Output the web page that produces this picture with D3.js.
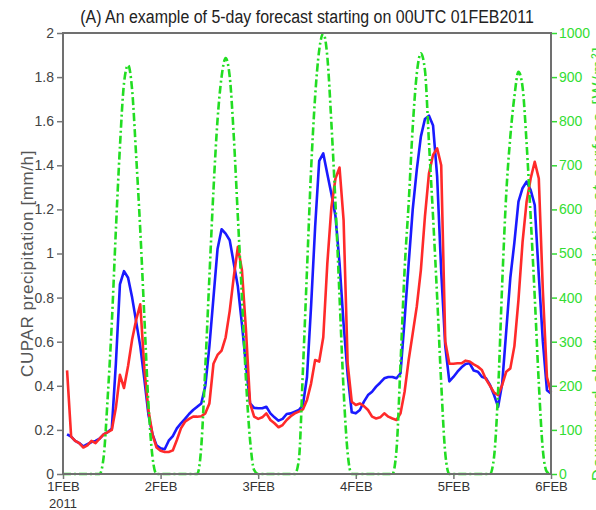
<!DOCTYPE html>
<html>
<head>
<meta charset="utf-8">
<script src="https://cdn.jsdelivr.net/npm/d3@7"></script>
<style>
body { margin: 0; background: #fff; }
svg { display: block; }
</style>
</head>
<body>
<div id="chart"></div>
<script>
const title = "(A) An example of 5-day forecast starting on 00UTC 01FEB2011";
const leftLabel = "CUPAR precipitation [mm/h]";
const rightLabel = "Downward shortwave radiation at surface [W/m\u00b2]";
const dayLabels = ["1FEB", "2FEB", "3FEB", "4FEB", "5FEB", "6FEB"];
const yearLabel = "2011";
const precipTicks = [0, 0.2, 0.4, 0.6, 0.8, 1, 1.2, 1.4, 1.6, 1.8, 2];
const swTicks = [0, 100, 200, 300, 400, 500, 600, 700, 800, 900, 1000];

// hourly values, forecast hours 1..120
const bluePrecip = [
  0.18, 0.17, 0.15, 0.14, 0.125, 0.135, 0.145, 0.15, 0.16, 0.18, 0.19, 0.205,
  0.50, 0.86, 0.92, 0.89, 0.80, 0.69, 0.58, 0.43, 0.27, 0.18, 0.13, 0.117,
  0.112, 0.151, 0.172, 0.207, 0.23, 0.25, 0.272, 0.29, 0.305, 0.32, 0.40, 0.58,
  0.80, 1.02, 1.11, 1.09, 1.06, 0.955, 0.85, 0.68, 0.49, 0.32, 0.30, 0.298,
  0.298, 0.305, 0.275, 0.257, 0.242, 0.25, 0.272, 0.275, 0.283, 0.29, 0.313, 0.44,
  0.76, 1.12, 1.42, 1.454, 1.36, 1.27, 1.17, 0.955, 0.68, 0.45, 0.28, 0.275,
  0.29, 0.328, 0.358, 0.373, 0.396, 0.414, 0.434, 0.44, 0.44, 0.434, 0.457, 0.70,
  0.955, 1.20, 1.38, 1.53, 1.61, 1.625, 1.58, 1.35, 0.92, 0.58, 0.42, 0.44,
  0.464, 0.484, 0.499, 0.502, 0.469, 0.464, 0.441, 0.434, 0.404, 0.358, 0.305, 0.41,
  0.65, 0.89, 1.05, 1.235, 1.296, 1.326, 1.288, 1.22, 0.90, 0.60, 0.38, 0.365
];
const redPrecip = [
  0.47, 0.17, 0.15, 0.14, 0.12, 0.13, 0.15, 0.14, 0.16, 0.18, 0.19, 0.20,
  0.30, 0.45, 0.39, 0.49, 0.61, 0.70, 0.77, 0.48, 0.29, 0.18, 0.12, 0.105,
  0.10, 0.10, 0.107, 0.154, 0.207, 0.237, 0.25, 0.26, 0.26, 0.262, 0.275, 0.32,
  0.50, 0.54, 0.56, 0.62, 0.74, 0.895, 1.03, 0.925, 0.65, 0.32, 0.26, 0.25,
  0.257, 0.275, 0.245, 0.23, 0.212, 0.222, 0.245, 0.262, 0.275, 0.283, 0.293, 0.336,
  0.41, 0.517, 0.51, 0.62, 0.955, 1.21, 1.34, 1.39, 1.15, 0.50, 0.328, 0.313,
  0.32, 0.308, 0.29, 0.26, 0.252, 0.257, 0.275, 0.26, 0.252, 0.245, 0.275, 0.373,
  0.517, 0.638, 0.76, 0.925, 1.167, 1.364, 1.447, 1.477, 1.40, 0.60, 0.50, 0.50,
  0.502, 0.502, 0.514, 0.51, 0.497, 0.487, 0.472, 0.43, 0.40, 0.369, 0.358, 0.404,
  0.464, 0.479, 0.58, 0.79, 1.05, 1.235, 1.34, 1.416, 1.34, 0.83, 0.44, 0.37
];
// hourly values, forecast hours 0..120
const shortwave = [
  0, 0, 0, 0, 0, 0, 0, 0, 0, 0,
  39, 175, 342, 553, 742, 886, 927, 871, 720, 553, 357, 160, 39, 0,
  0, 0, 0, 0, 0, 0, 0, 0, 0, 0,
  62, 243, 447, 644, 803, 901, 943, 901, 765, 583, 402, 213, 77, 9,
  0, 0, 0, 0, 0, 0, 0, 0, 0, 0,
  32, 236, 463, 689, 856, 961, 999, 946, 795, 614, 402, 190, 47,
  0, 0, 0, 0, 0, 0, 0, 0, 0, 0, 0,
  54, 251, 463, 614, 787, 908, 954, 916, 750, 583, 402, 206, 47,
  0, 0, 0, 0, 0, 0, 0, 0, 0, 0, 0,
  39, 190, 432, 636, 765, 856, 912, 878, 750, 583, 402, 206, 54, 5, 0
];

const W = 596, H = 510;
const plotL = 63, plotR = 551, plotT = 33, plotB = 474;
const font = "'Liberation Sans',Arial,sans-serif";
const narrow = 0.84; // squeeze glyphs horizontally, the original uses a condensed face

const x = d3.scaleLinear().domain([0, 120]).range([plotL, plotR]);
const y = d3.scaleLinear().domain([0, 2]).range([plotB, plotT]);
const ySw = d3.scaleLinear().domain([0, 1000]).range([plotB, plotT]);

const svg = d3.select("#chart").append("svg")
    .attr("width", W).attr("height", H)
    .style("font-family", font);

svg.append("text")
    .attr("transform", `translate(${(plotL + plotR) / 2},23) scale(${narrow},1)`)
    .attr("text-anchor", "middle")
    .attr("font-size", 19)
    .attr("fill", "#222")
    .text(title);

// left axis
const yAxis = svg.append("g")
    .attr("transform", `translate(${plotL},0)`)
    .call(d3.axisLeft(y).tickValues(precipTicks).tickSize(6).tickPadding(3)
        .tickFormat(d => d3.format(".1f")(d).replace(/\.0$/, "")));
yAxis.select(".domain").remove();
yAxis.selectAll("line").attr("stroke", "#777").attr("stroke-width", 1.5);
yAxis.selectAll("text").attr("font-size", 14).attr("fill", "#444").attr("font-family", font);

// right axis
const swAxis = svg.append("g")
    .attr("transform", `translate(${plotR},0)`)
    .call(d3.axisRight(ySw).tickValues(swTicks).tickSize(6).tickPadding(2)
        .tickFormat(d3.format("d")));
swAxis.select(".domain").remove();
swAxis.selectAll("line").attr("stroke", "#33dd33").attr("stroke-width", 1.5);
swAxis.selectAll("text").attr("font-size", 14).attr("fill", "#33dd33").attr("font-family", font);

// bottom axis
const xAxis = svg.append("g")
    .attr("transform", `translate(0,${plotB})`)
    .call(d3.axisBottom(x).tickValues(d3.range(0, 121, 24)).tickSize(5).tickPadding(3)
        .tickFormat((d, i) => dayLabels[i]));
xAxis.select(".domain").remove();
xAxis.selectAll("line").attr("stroke", "#777").attr("stroke-width", 1.5);
xAxis.selectAll("text").attr("font-size", 13).attr("fill", "#333").attr("font-family", font);

svg.append("text")
    .attr("x", x(0)).attr("y", 508)
    .attr("text-anchor", "middle")
    .attr("font-size", 13).attr("fill", "#333")
    .text(yearLabel);

svg.append("text")
    .attr("transform", `translate(33,${(plotT + plotB) / 2 + 10}) rotate(-90)`)
    .attr("text-anchor", "middle")
    .attr("font-size", 17).attr("fill", "#555")
    .attr("letter-spacing", 0.6)
    .text(leftLabel);

// right title mostly falls outside the picture, as in the original
svg.append("text")
    .attr("transform", `translate(604,${(plotT + plotB) / 2 + 10}) rotate(-90)`)
    .attr("text-anchor", "middle")
    .attr("font-size", 17).attr("fill", "#33dd33")
    .attr("letter-spacing", 1.5)
    .text(rightLabel);

const plot = svg.append("g");

const precipLine = start => d3.line()
    .x((d, i) => x(start + i))
    .y(d => y(d));

plot.append("path")
    .datum(bluePrecip)
    .attr("fill", "none").attr("stroke", "#1a1aff").attr("stroke-width", 2.6)
    .attr("stroke-linejoin", "round")
    .attr("d", precipLine(1));

plot.append("path")
    .datum(redPrecip)
    .attr("fill", "none").attr("stroke", "#ff2a2a").attr("stroke-width", 2.6)
    .attr("stroke-linejoin", "round")
    .attr("d", precipLine(1));

plot.append("path")
    .datum(shortwave)
    .attr("fill", "none").attr("stroke", "#22dd22").attr("stroke-width", 2.6)
    .attr("stroke-dasharray", "8,3,2,3")
    .attr("d", d3.line().x((d, i) => x(i)).y(d => ySw(d)).curve(d3.curveMonotoneX));

// frame
svg.append("rect")
    .attr("x", plotL).attr("y", plotT)
    .attr("width", plotR - plotL).attr("height", plotB - plotT)
    .attr("fill", "none").attr("stroke", "#707070").attr("stroke-width", 2);
</script>
</body>
</html>
